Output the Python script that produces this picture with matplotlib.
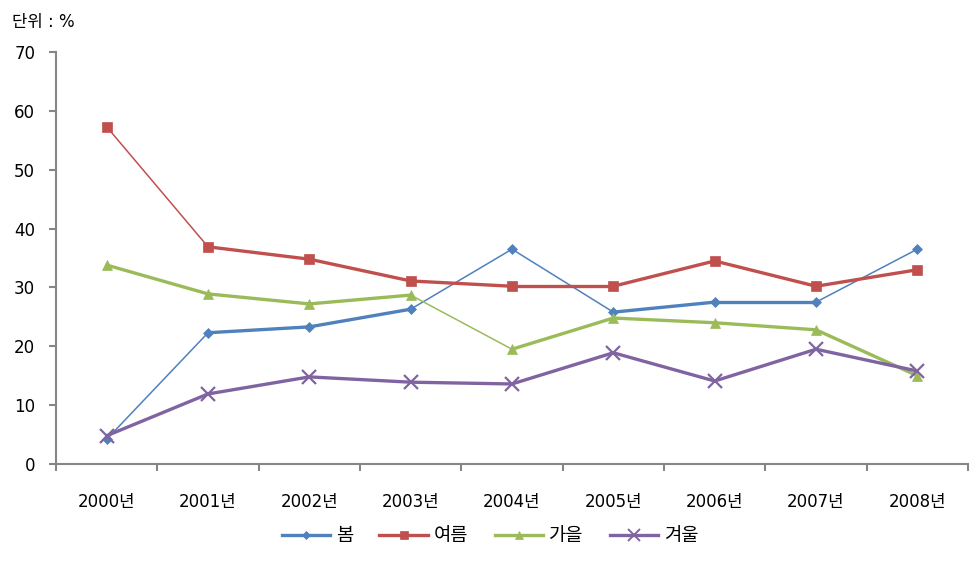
import matplotlib
matplotlib.use("Agg")
import matplotlib.pyplot as plt
from matplotlib.lines import Line2D

plt.rcParams['font.family'] = ['DejaVu Sans', 'Noto Sans CJK KR']

years = ["2000년", "2001년", "2002년", "2003년", "2004년", "2005년", "2006년", "2007년", "2008년"]
series_names = ["봄", "여름", "가을", "겨울"]
spring = [4.2, 22.3, 23.3, 26.3, 36.5, 25.8, 27.5, 27.5, 36.5]
summer = [57.3, 36.9, 34.8, 31.1, 30.2, 30.2, 34.5, 30.2, 33.0]
autumn = [33.8, 28.9, 27.2, 28.7, 19.5, 24.8, 24.0, 22.8, 15.0]
winter = [4.8, 11.9, 14.8, 13.9, 13.6, 18.9, 14.1, 19.5, 15.8]

# styling: per-segment thickness (thin segments) mimicking the reference rendering
thin_segments = [
    [0, 3, 4, 7],
    [0],
    [3],
    [],
]
colors = ["#4F81BD", "#C0504D", "#9BBB59", "#8064A2"]
markers = ["D", "s", "^", "x"]
msizes = [5.5, 7.5, 7.5, 10]

fig = plt.figure(figsize=(9.78, 5.61), dpi=100)
ax = fig.add_axes([56/978, (561-464)/561, (968-56)/978, 412/561])

xs = list(range(len(years)))
data = [spring, summer, autumn, winter]
for vals, col, mk, ms, thin in zip(data, colors, markers, msizes, thin_segments):
    for i in range(len(xs) - 1):
        lw = 1.1 if i in thin else 2.4
        ax.plot(xs[i:i+2], vals[i:i+2], color=col, lw=lw, solid_capstyle='round', zorder=2)
    ax.plot(xs, vals, linestyle='none', marker=mk, color=col, markersize=ms,
            markeredgewidth=1.6 if mk == 'x' else 0.5, zorder=3)

ax.set_xlim(-0.5, len(years) - 0.5)
ax.set_ylim(0, 70)
ax.set_yticks(range(0, 71, 10))
ax.set_xticks([i - 0.5 for i in range(len(years) + 1)])
ax.set_xticklabels([])
ax.set_xticks(xs, minor=True)
ax.set_xticklabels(years, minor=True, fontsize=12)
ax.tick_params(axis='x', which='major', length=5, color='#868686', width=1.5, direction='out')
ax.tick_params(axis='x', which='minor', length=0, pad=21)
ax.tick_params(axis='y', length=5, color='#868686', width=1.5, direction='out', labelsize=12, pad=10)
for s in ['top', 'right']:
    ax.spines[s].set_visible(False)
for s in ['left', 'bottom']:
    ax.spines[s].set_color('#868686')
    ax.spines[s].set_linewidth(1.5)

fig.text(12/978, 1 - 22/561, "단위 : %", fontsize=12, va='center', ha='left')

handles = [Line2D([], [], color=c, lw=2.4, marker=m, markersize=ms * 0.8,
                  markeredgewidth=1.4 if m == 'x' else 0.5)
           for c, m, ms in zip(colors, markers, msizes)]
fig.legend(handles, series_names, loc='center', bbox_to_anchor=(490/978, 1 - 536/561),
           ncol=4, frameon=False, fontsize=13.5, handlelength=2.6, columnspacing=1.4,
           handletextpad=0.3)

fig.savefig("out.png", dpi=100)
